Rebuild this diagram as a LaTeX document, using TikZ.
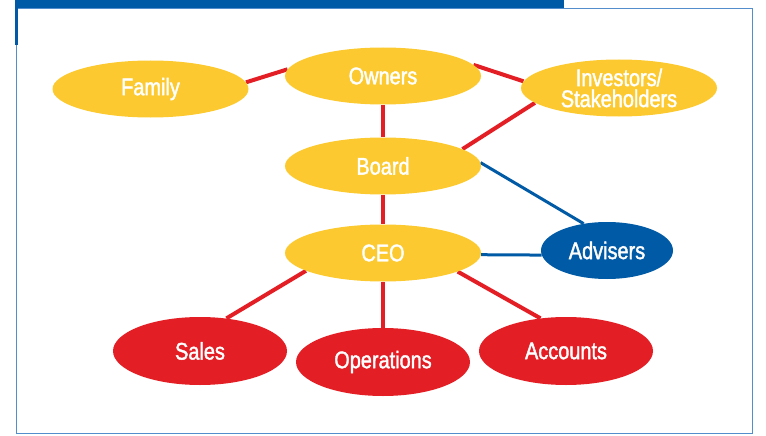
\documentclass[tikz,border=0pt]{standalone}
\usepackage{fontspec}
\setmainfont{Liberation Sans}[FakeStretch=0.83,FakeBold=1.6]
\usetikzlibrary{shapes.geometric,backgrounds}
\definecolor{chartyellow}{RGB}{252,202,48}
\definecolor{chartred}{RGB}{227,30,37}
\definecolor{chartblue}{RGB}{0,90,165}
\definecolor{frameblue}{RGB}{84,141,204}

\begin{document}
\begin{tikzpicture}[x=1pt, y=-1pt,
  role/.style={ellipse, inner sep=0pt, text=white, align=center, font=\fontsize{24}{21}\selectfont},
  topnode/.style={role, fill=chartyellow, minimum width=196pt, minimum height=57pt},
  deptnode/.style={role, fill=chartred, minimum width=174pt, minimum height=68pt},
  advnode/.style={role, fill=chartblue, minimum width=132pt, minimum height=57pt},
  redlink/.style={color=chartred, line width=4pt},
  bluelink/.style={color=chartblue, line width=3pt}]
  \useasboundingbox (0,0) rectangle (766,436);
  % frame and top bar
  \fill[chartblue] (15,0) rectangle (564,8);
  \draw[frameblue, line width=1pt] (16,9) rectangle (752.5,433);
  \fill[chartblue] (15,8) rectangle (17.5,45);
  % ownership and management
  \node[topnode] (family) at (150.5,89) {Family};
  \node[topnode] (owners) at (383,76) {Owners};
  \node[topnode] (investors) at (619,88) {Investors/\\Stakeholders};
  \node[topnode] (board) at (383,166) {Board};
  \node[topnode] (ceo) at (383,253) {CEO};
  \node[advnode] (advisers) at (607,250.5) {Advisers};
  % departments
  \node[deptnode] (sales) at (200,351) {Sales};
  \node[deptnode] (operations) at (383,362) {Operations};
  \node[deptnode] (accounts) at (566,351) {Accounts};
  \begin{scope}[on background layer]
  \path[redlink]
  (family.4) edge (owners.176)
  (owners.7) edge (investors.176)
  (owners) edge (board)
  (investors.190) edge (board.12)
  (board) edge (ceo)
  (ceo.193) edge (sales.51)
  (ceo) edge (operations)
  (ceo.-14) edge (accounts.128);
  \path[bluelink]
  (board.2) edge (advisers.131)
  (ceo.-1) edge (advisers.184);
  \end{scope}
\end{tikzpicture}
\end{document}
